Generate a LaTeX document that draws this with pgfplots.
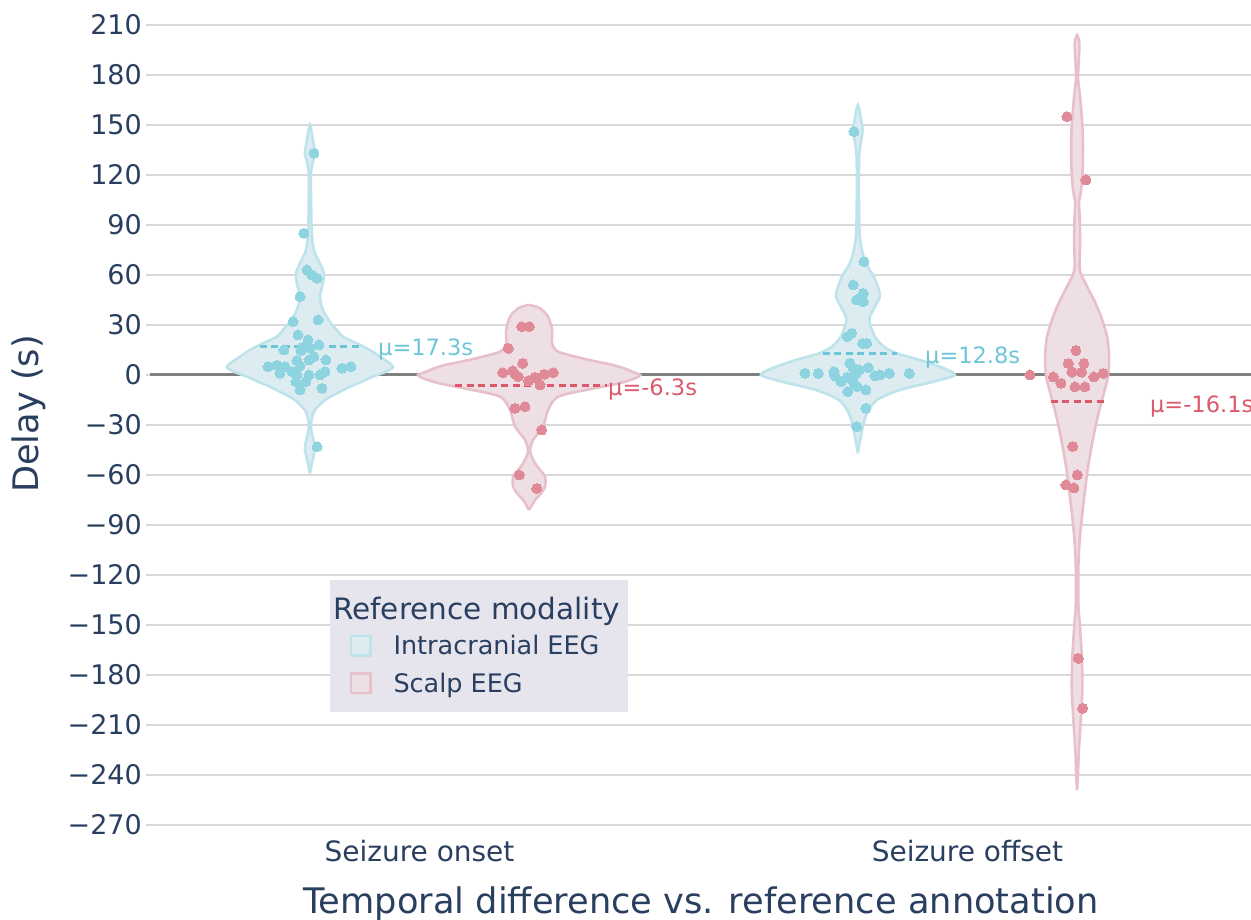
\documentclass[border=0pt]{standalone}
\usepackage{pgfplots}
\pgfplotsset{compat=1.18}
\usepackage{pgfplotstable}
\usepackage{fontspec}
\setmainfont{DejaVu Sans}

\definecolor{textc}{HTML}{2A3F5F}
\definecolor{gridc}{HTML}{D9D9D9}
\definecolor{zeroc}{HTML}{808080}
\definecolor{bluept}{HTML}{8DD3E0}
\definecolor{bluefill}{HTML}{DDECF1}
\definecolor{blueln}{HTML}{BEE3EB}
\definecolor{bluetxt}{HTML}{6DC6D7}
\definecolor{pinkpt}{HTML}{E08A97}
\definecolor{pinkfill}{HTML}{EEDFE4}
\definecolor{pinkln}{HTML}{E7C0CA}
\definecolor{pinktxt}{HTML}{DA5A6C}
\definecolor{legbg}{HTML}{E6E5EE}

% violin outlines: y value, signed half-width in pixels
\pgfplotstableread{
y w
-59 0
-53 2
-49 3.5
-44 5
-40 4
-35 2
-31 1
-26 2
-21 5
-15 15
-11 27
-7 40
-4 52
-1 63
2 76
4.5 83
7 80
11 70
15 60
19 47
23 33
27 27
31 21
39 13
47 10
55 13
61 14
67 10
73 5
79 2.7
90 1.5
99 1.3
119 1
127 2.5
133 5
141 3
150 0
141 -3
133 -5
127 -2.5
119 -1
99 -1.3
90 -1.5
79 -2.7
73 -5
67 -10
61 -14
55 -13
47 -10
39 -13
31 -21
27 -27
23 -33
19 -47
15 -60
11 -70
7 -80
4.5 -83
2 -76
-1 -63
-4 -52
-7 -40
-11 -27
-15 -15
-21 -5
-26 -2
-31 -1
-35 -2
-40 -4
-44 -5
-49 -3.5
-53 -2
-59 0
}\vA

\pgfplotstableread{
y w
-81 0
-75 6
-71 12
-67 16
-61 16
-57 11
-53 6
-46 1
-39 4
-31 14
-21 19
-13 29
-8.6 60
-5 90
-2 106
0 111
2 103
4 95
6 84
8 68
10 53
14 29
19 23
27 23
35 19
40 11
41.5 4
42 0
41.5 -4
40 -11
35 -19
27 -23
19 -23
14 -29
10 -53
8 -68
6 -84
4 -95
2 -103
0 -111
-2 -106
-5 -90
-8.6 -60
-13 -29
-21 -19
-31 -14
-39 -4
-46 -1
-53 -6
-57 -11
-61 -16
-67 -16
-71 -12
-75 -6
-81 0
}\vB

\pgfplotstableread{
y w
-47 0
-39 2.3
-31 5
-23 9
-15 19
-9 42
-4 76
0 97
4 86
9 62
13 39
17 26
23 17
31 12
35 12
41 17
47 22
51 21
59 16
67 8
75 4
85 1.7
111 1
131 1.3
140 3
147 4.7
154 3
162 0
154 -3
147 -4.7
140 -3
131 -1.3
111 -1
85 -1.7
75 -4
67 -8
59 -16
51 -21
47 -22
41 -17
35 -12
31 -12
23 -17
17 -26
13 -39
9 -62
4 -86
0 -97
-4 -76
-9 -42
-15 -19
-23 -9
-31 -5
-39 -2.3
-47 0
}\vC

\pgfplotstableread{
y w
-249 0
-238 1
-226 1.7
-207 3.7
-188 5.3
-169 4.7
-150 2.7
-138 1.3
-115 1.3
-98 2.7
-79 6
-55 11
-36 16.7
-24 21
-12.6 26
-0.7 31
11 32
23 30
35 24
44 17.7
54 9.3
63 2.7
80 3
95 2.5
104 2
111 4
125 5.7
145 5.7
165 3.3
178 1
189 1.7
199 2.3
204 0
199 -2.3
189 -1.7
178 -1
165 -3.3
145 -5.7
125 -5.7
111 -4
104 -2
95 -2.5
80 -3
63 -2.7
54 -9.3
44 -17.7
35 -24
23 -30
11 -32
-0.7 -31
-12.6 -26
-24 -21
-36 -16.7
-55 -11
-79 -6
-98 -2.7
-115 -1.3
-138 -1.3
-150 -2.7
-169 -4.7
-188 -5.3
-207 -3.7
-226 -1.7
-238 -1
-249 0
}\vD

% points: horizontal pixel position, delay (s)
\pgfplotstableread{
px v
314 133
304 85
307 63
312 60
317 58
300 47
293 32
318 33
298 24
308 21
284 15
303 16.6
301 14.6
310 16.2
319 18
297 8.6
300 5.4
314 11
309 9
326 9
268 5
277 5.8
285 5
280 1
292 2
297 0
296 -4
306 -4
309 0
320 0
325 2
342 4
351 5
322 -8
300 -9
317 -43
}\pA

\pgfplotstableread{
px v
521.7 29
529.3 29
508.3 16
522.7 7
502.7 1.4
512.7 2.4
515 0.6
518.3 -1
528.3 -3.6
536.7 -2
544.3 0.4
553.3 1.4
540 -6
535 -1.4
515 -20
525 -19
541.7 -33
519.3 -60
536.7 -68
}\pB

\pgfplotstableread{
px v
854 146
864 68
853.3 54
863.3 49
856.7 45
863.3 44
860 46
847.3 23
851.7 25
862.7 19
866.7 19
805 1
818.3 1
834 2
835 -0.6
841 -4
847.3 -1.4
850 7
853.3 4
856.7 1
859.3 3
868.3 4.4
875 -0.6
880 0
889.3 1
909.3 1
854 -5
857.3 -7
847.7 -10
866 -9
866 -20
856.7 -31
}\pC

\pgfplotstableread{
px v
1076 14.7
1068.3 6.9
1084 6.9
1072 1.7
1081.7 1.7
1053.3 -1.2
1061 -5
1075 -7.1
1085 -7.1
1094 -1.2
1103.3 0.9
1030 0
1072.7 -42.9
1077.3 -60
1066 -66
1074 -67.8
1078.3 -170
1082.7 -200
1067 155
1086 117
}\pD

\begin{document}
\begin{tikzpicture}
\begin{axis}[
  at={(0,0)}, anchor=south west, scale only axis,
  width=1101pt, height=816.667pt,
  xmin=-0.49179, xmax=1.51734, ymin=-273, ymax=217,
  clip=false,
  axis line style={draw=none},
  xtick={0,1}, xticklabels={Seizure onset, Seizure offset},
  xtick style={draw=none},
  xticklabel style={anchor=base, inner sep=0pt, yshift=-27.5pt,
    font=\fontsize{28}{33}\selectfont, text=textc},
  ytick={-270,-240,...,210},
  yticklabels={−270,−240,−210,−180,−150,−120,−90,−60,−30,0,30,60,90,120,150,180,210},
  ytick pos=left, tick align=outside, major tick length=4pt,
  ytick style={draw=gridc, line width=1.8pt},
  yticklabel style={anchor=east, inner sep=0pt, xshift=-4pt,
    font=\fontsize{27}{32}\selectfont, text=textc},
  ymajorgrids, grid style={draw=gridc, line width=1.8pt},
]
\addplot[zeroc, line width=3pt] coordinates {(-0.49179,0) (1.51734,0)};

\addplot[draw=blueln, line width=2.6pt, fill=bluefill, smooth, tension=0.45]
  table[x expr=-0.2+\thisrow{w}/548, y=y] {\vA};
\addplot[draw=pinkln, line width=2.6pt, fill=pinkfill, smooth, tension=0.45]
  table[x expr=0.2+\thisrow{w}/548, y=y] {\vB};
\addplot[draw=blueln, line width=2.6pt, fill=bluefill, smooth, tension=0.45]
  table[x expr=0.8+\thisrow{w}/548, y=y] {\vC};
\addplot[draw=pinkln, line width=2.6pt, fill=pinkfill, smooth, tension=0.45]
  table[x expr=1.2+\thisrow{w}/548, y=y] {\vD};

\addplot[color=bluept, only marks, mark=*, mark size=5pt, mark options={draw=bluept, fill=bluept, line width=0pt}]
  table[x expr=(\thisrow{px}-419.5)/548, y=v] {\pA};
\addplot[color=pinkpt, only marks, mark=*, mark size=5pt, mark options={draw=pinkpt, fill=pinkpt, line width=0pt}]
  table[x expr=(\thisrow{px}-419.5)/548, y=v] {\pB};
\addplot[color=bluept, only marks, mark=*, mark size=5pt, mark options={draw=bluept, fill=bluept, line width=0pt}]
  table[x expr=(\thisrow{px}-419.5)/548, y=v] {\pC};
\addplot[color=pinkpt, only marks, mark=*, mark size=5pt, mark options={draw=pinkpt, fill=pinkpt, line width=0pt}]
  table[x expr=(\thisrow{px}-419.5)/548, y=v] {\pD};

\addplot[bluetxt, line width=3pt, dash pattern=on 7pt off 4.5pt] coordinates {(-0.2911,17.3) (-0.1049,17.3)};
\addplot[pinktxt, line width=3pt, dash pattern=on 7pt off 4.5pt] coordinates {(0.0648,-6.3) (0.3422,-6.3)};
\addplot[bluetxt, line width=3pt, dash pattern=on 7pt off 4.5pt] coordinates {(0.7363,12.8) (0.8714,12.8)};
\addplot[pinktxt, line width=3pt, dash pattern=on 7pt off 4.5pt] coordinates {(1.1518,-16.1) (1.2491,-16.1)};

\node[anchor=base west, inner sep=0pt, text=bluetxt, font=\fontsize{22.5}{27}\selectfont] at (axis cs:-0.07573,11.5) {μ=17.3s};
\node[anchor=base west, inner sep=0pt, text=pinktxt, font=\fontsize{22.5}{27}\selectfont] at (axis cs:0.34398,-12.4) {μ=-6.3s};
\node[anchor=base west, inner sep=0pt, text=bluetxt, font=\fontsize{22.5}{27}\selectfont] at (axis cs:0.92245,6.6) {μ=12.8s};
\node[anchor=base west, inner sep=0pt, text=pinktxt, font=\fontsize{22.5}{27}\selectfont] at (axis cs:1.33303,-22.7) {μ=-16.1s};
\end{axis}

% legend
\fill[legbg] (180pt,118pt) rectangle (478pt,250pt);
\node[anchor=base west, inner sep=0pt, text=textc, font=\fontsize{29.5}{35}\selectfont] at (183pt,210pt) {Reference modality};
\draw[blueln, line width=2.6pt, fill=bluefill] (201pt,174.5pt) rectangle (220.5pt,194pt);
\node[anchor=base west, inner sep=0pt, text=textc, font=\fontsize{25.5}{30}\selectfont] at (243.3pt,175pt) {Intracranial EEG};
\draw[pinkln, line width=2.6pt, fill=pinkfill] (201pt,137pt) rectangle (220.5pt,156.5pt);
\node[anchor=base west, inner sep=0pt, text=textc, font=\fontsize{25.5}{30}\selectfont] at (243.3pt,137.3pt) {Scalp EEG};

% axis titles
\node[anchor=base, inner sep=0pt, text=textc, font=\fontsize{35.2}{41}\selectfont] at (551pt,-83.3pt) {Temporal difference vs. reference annotation};
\node[anchor=base, rotate=90, inner sep=0pt, text=textc, font=\fontsize{35.2}{41}\selectfont] at (-111.7pt,416pt) {Delay (s)};

\pgfresetboundingbox
\useasboundingbox (-150pt,-90pt) rectangle (1101pt,830pt);
\end{tikzpicture}
\end{document}
